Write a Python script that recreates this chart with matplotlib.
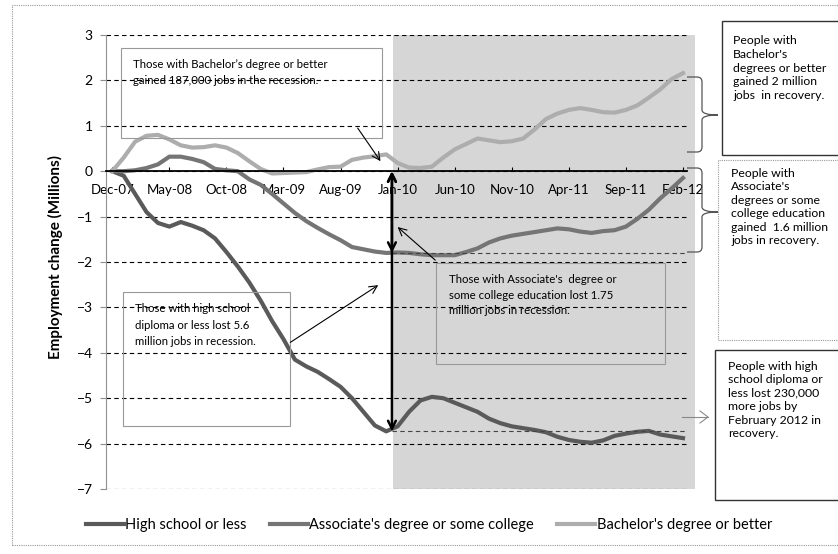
import numpy as np
import matplotlib
matplotlib.use("Agg")
import matplotlib.pyplot as plt
from matplotlib.patches import Rectangle, PathPatch
from matplotlib.path import Path

plt.rcParams['font.family'] = ['Lato', 'DejaVu Sans']

# monthly change since Dec-07, millions
months = ['Dec-07', 'May-08', 'Oct-08', 'Mar-09', 'Aug-09', 'Jan-10',
          'Jun-10', 'Nov-10', 'Apr-11', 'Sep-11', 'Feb-12']

high_school = [0, -0.1, -0.5, -0.9, -1.14, -1.22, -1.12, -1.2, -1.3, -1.48,
               -1.78, -2.1, -2.45, -2.85, -3.3, -3.7, -4.15, -4.3, -4.42, -4.58,
               -4.75, -5.0, -5.3, -5.6, -5.73, -5.62, -5.3, -5.05, -4.97, -5.0,
               -5.1, -5.2, -5.3, -5.45, -5.55, -5.62, -5.66, -5.7, -5.75, -5.85,
               -5.92, -5.96, -5.98, -5.93, -5.83, -5.78, -5.74, -5.72, -5.8, -5.84,
               -5.88]
associate = [0, 0.0, 0.02, 0.07, 0.15, 0.32, 0.32, 0.27, 0.2, 0.05,
             0.02, 0.0, -0.18, -0.3, -0.5, -0.71, -0.92, -1.1, -1.25, -1.39,
             -1.52, -1.67, -1.72, -1.77, -1.8, -1.79, -1.8, -1.83, -1.85, -1.85,
             -1.85, -1.78, -1.7, -1.57, -1.48, -1.42, -1.38, -1.34, -1.3, -1.26,
             -1.28, -1.33, -1.36, -1.32, -1.3, -1.22, -1.05, -0.85, -0.6, -0.38,
             -0.15]
bachelor = [0, 0.3, 0.65, 0.78, 0.8, 0.7, 0.57, 0.52, 0.53, 0.57,
            0.52, 0.4, 0.22, 0.05, -0.05, -0.04, -0.03, -0.02, 0.04, 0.09,
            0.1, 0.25, 0.3, 0.33, 0.37, 0.18, 0.08, 0.07, 0.1, 0.3,
            0.48, 0.6, 0.72, 0.68, 0.64, 0.66, 0.72, 0.92, 1.15, 1.27,
            1.35, 1.39, 1.35, 1.3, 1.29, 1.35, 1.45, 1.62, 1.8, 2.03,
            2.16]

W, H = 838, 554


def fx(px):
    return px / W


def fy(py):
    return 1 - py / H


fig = plt.figure(figsize=(W / 100, H / 100), dpi=100)
ax = fig.add_axes([fx(106), fy(489), fx(687) - fx(106), fy(35) - fy(489)])

x = np.arange(len(high_school))
ax.plot(x, high_school, color='#5a5a5a', lw=3, label='High school or less')
ax.plot(x, associate, color='#757575', lw=3, label="Associate's degree or some college")
ax.plot(x, bachelor, color='#adadad', lw=3, label="Bachelor's degree or better")

ax.set_xlim(-0.55, 50.35)
ax.set_ylim(-7, 3)
ax.set_yticks(range(-7, 4))
ax.set_xticks(range(0, len(x), 5))
ax.set_xticklabels(months)

# recovery period shading
ax.add_patch(Rectangle((24.6, -7), 26.45, 10, facecolor='#d6d6d6', edgecolor='none',
                       zorder=1, clip_on=False))

ax.set_axisbelow('line')
ax.yaxis.grid(True, color='black', ls=(0, (4, 3)), lw=0.8)
for s in ['top', 'right']:
    ax.spines[s].set_visible(False)
ax.spines['left'].set_color('#909090')
ax.spines['bottom'].set_position(('data', 0))
ax.spines['bottom'].set_linewidth(1.3)
ax.tick_params(axis='y', length=4.5, color='#909090', labelsize=10, pad=5)
ax.tick_params(axis='x', direction='in', length=3, labelsize=9.5, pad=9)

# level lines at the troughs
ax.hlines([-1.8, -5.73], 24.5, 50.35, colors='#444444', ls=(0, (4, 3)), lw=0.8)

# recession losses
ax.annotate('', xy=(24.5, -1.8), xytext=(24.5, 0), arrowprops=dict(arrowstyle='<->', color='black', lw=1.8,
            shrinkA=0, shrinkB=0, mutation_scale=14))
ax.annotate('', xy=(24.5, -5.73), xytext=(24.5, 0), arrowprops=dict(arrowstyle='<->', color='black', lw=1.8,
            shrinkA=0, shrinkB=0, mutation_scale=14))

thin = dict(arrowstyle='->', color='black', lw=0.8, shrinkA=0, shrinkB=0, mutation_scale=14)
box_style = dict(facecolor='none', edgecolor='#999999', lw=0.8, zorder=3)

ax.add_patch(Rectangle((0.79, 0.73), 22.8, 1.98, **box_style))
ax.text(1.84, 2.17, "Those with Bachelor\u2019s degree or better\ngained 187,000 jobs in the recession.",
        fontsize=8.2, va='center', ha='left', linespacing=1.6)
ax.annotate('', xy=(23.5, 0.22), xytext=(21.5, 0.95), arrowprops=thin)

ax.add_patch(Rectangle((0.96, -5.62), 14.6, 2.95, **box_style))
ax.text(2.0, -3.39, "Those with high school\ndiploma or less lost 5.6\nmillion jobs in recession.",
        fontsize=8.2, va='center', ha='left', linespacing=1.6)
ax.annotate('', xy=(23.3, -2.51), xytext=(15.6, -3.77), arrowprops=thin)

ax.add_patch(Rectangle((28.4, -4.25), 20.0, 2.22, **box_style))
ax.text(29.5, -2.73, "Those with Associate's  degree or\nsome college education lost 1.75\nmillion jobs in recession.",
        fontsize=8.2, va='center', ha='left', linespacing=1.5)
ax.annotate('', xy=(25.0, -1.23), xytext=(28.3, -1.96), arrowprops=thin)


def brace(x0, xv, xt, yt, ym, yb, r=5):
    pts = [(x0, yt), (xv - r, yt), (xv, yt), (xv, yt + r), (xv, ym - r), (xv, ym), (xt, ym),
           (xv, ym), (xv, ym + r), (xv, yb - r), (xv, yb), (xv - r, yb), (x0, yb)]
    codes = [Path.MOVETO, Path.LINETO, Path.CURVE3, Path.CURVE3, Path.LINETO, Path.CURVE3, Path.CURVE3,
             Path.CURVE3, Path.CURVE3, Path.LINETO, Path.CURVE3, Path.CURVE3, Path.LINETO]
    p = Path([(fx(a), fy(b)) for a, b in pts], codes)
    fig.add_artist(PathPatch(p, facecolor='none', edgecolor='#555555', lw=0.9, transform=fig.transFigure))


brace(687, 702, 718, 77, 115, 152)
brace(687, 702, 718, 168, 212, 252)
fig.add_artist(plt.Line2D([fx(682), fx(708)], [fy(417), fy(417)], color='#888888', lw=0.8))
fig.add_artist(plt.Line2D([fx(700), fx(708), fx(700)], [fy(411), fy(417), fy(423)], color='#888888', lw=0.8))

# right side notes
note = dict(fontsize=8.8, va='center', ha='left', linespacing=1.28)
fig.add_artist(Rectangle((fx(722), fy(155)), fx(130), fy(21) - fy(155), facecolor='white',
                         edgecolor='#333333', lw=1.0, transform=fig.transFigure))
fig.text(fx(733), fy(68), "People with\nBachelor's\ndegrees or better\ngained 2 million\njobs  in recovery.", **note)
fig.add_artist(Rectangle((fx(718), fy(340)), fx(130), fy(160) - fy(340), facecolor='white',
                         edgecolor='#999999', lw=0.8, ls=(0, (1, 1)), transform=fig.transFigure))
fig.text(fx(731), fy(207), "People with\nAssociate's\ndegrees or some\ncollege education\ngained  1.6 million\njobs in recovery.", **note)
fig.add_artist(Rectangle((fx(715), fy(500)), fx(130), fy(350) - fy(500), facecolor='white',
                         edgecolor='#333333', lw=1.0, transform=fig.transFigure))
fig.text(fx(728), fy(400), "People with high\nschool diploma or\nless lost 230,000\nmore jobs by\nFebruary 2012 in\nrecovery.", **note)

fig.text(fx(55), fy(257), 'Employment change (Millions)', rotation=90, fontsize=11,
         fontweight='bold', ha='center', va='center')

fig.legend(loc='center', bbox_to_anchor=(fx(429), fy(525)), ncol=3, frameon=False, fontsize=10.5,
           handlelength=2.6, handletextpad=0.1, columnspacing=1.6)

# outer chart frame
fig.add_artist(Rectangle((fx(12), fy(545)), fx(838) - fx(12), fy(5) - fy(545), facecolor='none',
                         edgecolor='#999999', lw=0.8, ls=(0, (1, 1)), transform=fig.transFigure, zorder=0))

fig.savefig('out.png', dpi=100)
